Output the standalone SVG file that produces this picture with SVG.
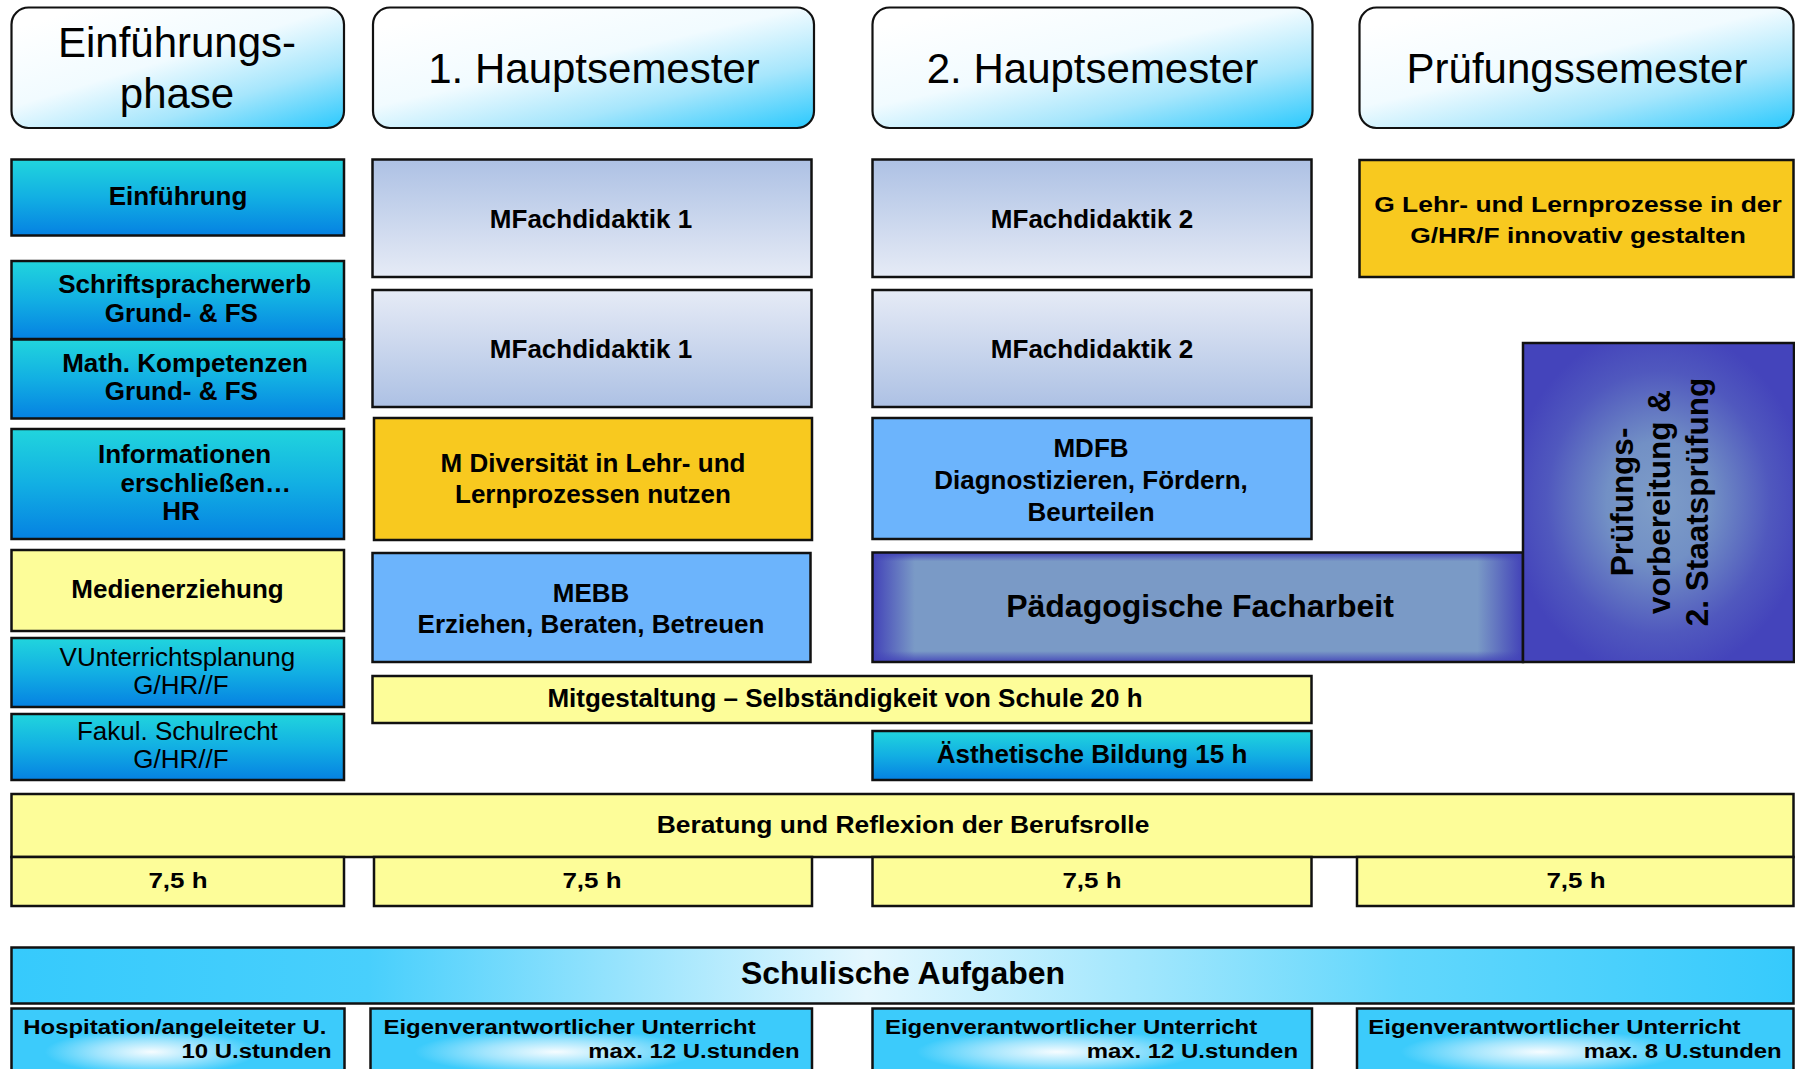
<svg xmlns="http://www.w3.org/2000/svg" width="1795" height="1069" viewBox="0 0 1795 1069">
<defs>
<linearGradient id="gHdr" x1="0.15" y1="0.05" x2="0.95" y2="1">
<stop offset="0" stop-color="#ffffff"/><stop offset="0.4" stop-color="#f1fbff"/><stop offset="0.7" stop-color="#a6e6fc"/><stop offset="1" stop-color="#33cbfd"/>
</linearGradient>
<linearGradient id="gCyan" x1="0" y1="0" x2="0" y2="1">
<stop offset="0" stop-color="#21d5dd"/><stop offset="0.5" stop-color="#12afe3"/><stop offset="1" stop-color="#0581e2"/>
</linearGradient>
<linearGradient id="gMFa" x1="0" y1="0" x2="0" y2="1">
<stop offset="0" stop-color="#adc1e4"/><stop offset="1" stop-color="#e6ebf6"/>
</linearGradient>
<linearGradient id="gMFb" x1="0" y1="0" x2="0" y2="1">
<stop offset="0" stop-color="#e6ebf6"/><stop offset="1" stop-color="#adc1e4"/>
</linearGradient>
<linearGradient id="gPadH" x1="0" y1="0" x2="1" y2="0">
<stop offset="0" stop-color="#4242b8"/><stop offset="0.065" stop-color="#7a9ac6"/><stop offset="0.93" stop-color="#7a9ac6"/><stop offset="1" stop-color="#4242b8"/>
</linearGradient>
<linearGradient id="gPadV" x1="0" y1="0" x2="0" y2="1">
<stop offset="0" stop-color="#4242b8" stop-opacity="1"/><stop offset="0.08" stop-color="#4242b8" stop-opacity="0"/><stop offset="0.9" stop-color="#4242b8" stop-opacity="0"/><stop offset="1" stop-color="#4242b8" stop-opacity="0.9"/>
</linearGradient>
<radialGradient id="gPurple" cx="0.5" cy="0.5" r="0.55">
<stop offset="0" stop-color="#7e9dc8"/><stop offset="0.35" stop-color="#7290c5"/><stop offset="0.75" stop-color="#5058be"/><stop offset="1" stop-color="#4444bb"/>
</radialGradient>
<linearGradient id="gSchul" x1="0" y1="0" x2="1" y2="0">
<stop offset="0" stop-color="#36cafc"/><stop offset="0.2" stop-color="#48cffc"/><stop offset="0.48" stop-color="#e4f7fe"/><stop offset="0.78" stop-color="#62d7fc"/><stop offset="1" stop-color="#36cafc"/>
</linearGradient>
<radialGradient id="gBot" cx="0.42" cy="0.62" r="0.32">
<stop offset="0" stop-color="#f6fcff"/><stop offset="0.5" stop-color="#a2e5fd"/><stop offset="1" stop-color="#3ccbfb"/>
</radialGradient>
</defs>
<style>
.b{stroke:#111;stroke-width:2.5}
.hd{stroke:#111;stroke-width:2.2;fill:url(#gHdr)}
.cy{fill:url(#gCyan)}
.ye{fill:#fdfd99}
.go{fill:#f8c91f}
.lb{fill:#6cb4fc}
.bt{fill:url(#gBot)}
text{font-family:'Liberation Sans',Arial,sans-serif;fill:#000}
.t{font-weight:bold;font-size:26px;text-anchor:middle}
.r{font-weight:normal}
.h{font-size:42px;font-weight:normal;text-anchor:middle}
.big{font-weight:bold;font-size:32px;text-anchor:middle}
.sm{font-weight:bold;font-size:21px}
.e{text-anchor:end}
.v{font-weight:bold;font-size:31.5px;text-anchor:middle}
</style>
<rect width="1795" height="1069" fill="#ffffff"/>

<g id="hdr1"><rect class="hd" x="11.5" y="7.5" width="332.5" height="120.5" rx="17"/><text class="h" x="177" y="57">Einführungs-</text><text class="h" x="177" y="108">phase</text></g>
<g id="hdr2"><rect class="hd" x="373" y="7.5" width="441" height="120.5" rx="17"/><text class="h" x="594" y="83">1. Hauptsemester</text></g>
<g id="hdr3"><rect class="hd" x="872.5" y="7.5" width="440" height="120.5" rx="17"/><text class="h" x="1092.5" y="83">2. Hauptsemester</text></g>
<g id="hdr4"><rect class="hd" x="1359.5" y="7.5" width="434" height="120.5" rx="17"/><text class="h" x="1577" y="83">Prüfungssemester</text></g>

<g id="einfuehrung"><rect class="b cy" x="11.5" y="159.5" width="332.5" height="76"/><text class="t" x="178" y="205">Einführung</text></g>
<g id="schrift"><rect class="b cy" x="11.5" y="261" width="332.5" height="78"/><text class="t" x="184.6" y="293">Schriftspracherwerb</text><text class="t" x="181.4" y="322">Grund- &amp; FS</text></g>
<g id="math"><rect class="b cy" x="11.5" y="339.5" width="332.5" height="79"/><text class="t" x="185" y="372">Math. Kompetenzen</text><text class="t" x="181.4" y="400">Grund- &amp; FS</text></g>
<g id="info"><rect class="b cy" x="11.5" y="429" width="332.5" height="110"/><text class="t" x="184.6" y="463">Informationen</text><text class="t" x="205.8" y="492">erschließen…</text><text class="t" x="181" y="520">HR</text></g>
<g id="medien"><rect class="b ye" x="11.5" y="550" width="332.5" height="81"/><text class="t" x="177.5" y="598">Medienerziehung</text></g>
<g id="unterricht"><rect class="b cy" x="11.5" y="638" width="332.5" height="69"/><text class="t r" x="177.4" y="666">VUnterrichtsplanung</text><text class="t r" x="181" y="694">G/HR//F</text></g>
<g id="schulrecht"><rect class="b cy" x="11.5" y="714" width="332.5" height="66"/><text class="t r" x="177.4" y="740">Fakul. Schulrecht</text><text class="t r" x="181" y="768">G/HR//F</text></g>

<g id="mf1a"><rect class="b" fill="url(#gMFa)" x="372.5" y="159.5" width="439" height="117.5"/><text class="t" x="591" y="228">MFachdidaktik 1</text></g>
<g id="mf1b"><rect class="b" fill="url(#gMFb)" x="372.5" y="290" width="439" height="117"/><text class="t" x="591" y="358">MFachdidaktik 1</text></g>
<g id="diversitaet"><rect class="b go" x="374" y="418" width="438" height="122"/><text class="t" x="593" y="472">M Diversität in Lehr- und</text><text class="t" x="593" y="503">Lernprozessen nutzen</text></g>
<g id="mebb"><rect class="b lb" x="372.5" y="553" width="438" height="109"/><text class="t" x="591" y="602">MEBB</text><text class="t" x="591" y="633">Erziehen, Beraten, Betreuen</text></g>
<g id="mitgestaltung"><rect class="b ye" x="372.5" y="676" width="939" height="47"/><text class="t" x="845" y="707">Mitgestaltung – Selbständigkeit von Schule 20 h</text></g>

<g id="mf2a"><rect class="b" fill="url(#gMFa)" x="872.5" y="159.5" width="439" height="117.5"/><text class="t" x="1092" y="228">MFachdidaktik 2</text></g>
<g id="mf2b"><rect class="b" fill="url(#gMFb)" x="872.5" y="290" width="439" height="117"/><text class="t" x="1092" y="358">MFachdidaktik 2</text></g>
<g id="mdfb"><rect class="b lb" x="872.5" y="418" width="439" height="121"/><text class="t" x="1091" y="457">MDFB</text><text class="t" x="1091" y="489">Diagnostizieren, Fördern,</text><text class="t" x="1091" y="521">Beurteilen</text></g>
<g id="facharbeit"><rect fill="url(#gPadH)" x="872.5" y="552.5" width="650.5" height="109.5"/><rect fill="url(#gPadV)" x="872.5" y="552.5" width="650.5" height="109.5"/><rect class="b" fill="none" x="872.5" y="552.5" width="650.5" height="109.5"/><text class="big" x="1200" y="617">Pädagogische Facharbeit</text></g>
<g id="aesthetik"><rect class="b cy" x="872.5" y="731" width="439" height="49"/><text class="t" x="1092" y="763">Ästhetische Bildung 15 h</text></g>

<g id="glehr"><rect class="b go" x="1359.5" y="160" width="434" height="117"/><text class="t" style="font-size:22px" transform="translate(1578,212) scale(1.2,1)">G Lehr- und Lernprozesse in der</text><text class="t" style="font-size:22px" transform="translate(1578,243) scale(1.2,1)">G/HR/F innovativ gestalten</text></g>
<g id="pruefung"><rect class="b" fill="url(#gPurple)" x="1523" y="343" width="271" height="319"/><text class="v" transform="translate(1633,502) rotate(-90)">Prüfungs-</text><text class="v" transform="translate(1670,502) rotate(-90)">vorbereitung &amp;</text><text class="v" transform="translate(1708,502) rotate(-90)">2. Staatsprüfung</text></g>

<g id="beratung"><rect class="b ye" x="11.5" y="794" width="1782" height="63"/><text class="t" style="font-size:24px" transform="translate(903,833) scale(1.1,1)">Beratung und Reflexion der Berufsrolle</text></g>
<g id="h1"><rect class="b ye" x="11.5" y="857" width="332.5" height="49"/><text class="t" style="font-size:22px" transform="translate(178,888) scale(1.18,1)">7,5 h</text></g>
<g id="h2"><rect class="b ye" x="374" y="857" width="438" height="49"/><text class="t" style="font-size:22px" transform="translate(592,888) scale(1.18,1)">7,5 h</text></g>
<g id="h3"><rect class="b ye" x="872.5" y="857" width="439" height="49"/><text class="t" style="font-size:22px" transform="translate(1092,888) scale(1.18,1)">7,5 h</text></g>
<g id="h4"><rect class="b ye" x="1357" y="857" width="436.5" height="49"/><text class="t" style="font-size:22px" transform="translate(1576,888) scale(1.18,1)">7,5 h</text></g>

<g id="schulisch"><rect class="b" fill="url(#gSchul)" x="11.5" y="947.5" width="1782" height="56"/><text class="big" x="903" y="984">Schulische Aufgaben</text></g>
<g id="bot1"><rect class="b bt" x="11.5" y="1008.5" width="333" height="70"/><text class="sm" transform="translate(23.3,1034) scale(1.14,1)">Hospitation/angeleiteter U.</text><text class="sm e" transform="translate(331.7,1058) scale(1.14,1)">10 U.stunden</text></g>
<g id="bot2"><rect class="b bt" x="370.5" y="1008.5" width="441.5" height="70"/><text class="sm" transform="translate(383.5,1034) scale(1.14,1)">Eigenverantwortlicher Unterricht</text><text class="sm e" transform="translate(799.7,1058) scale(1.14,1)">max. 12 U.stunden</text></g>
<g id="bot3"><rect class="b bt" x="872.5" y="1008.5" width="439.5" height="70"/><text class="sm" transform="translate(885,1034) scale(1.14,1)">Eigenverantwortlicher Unterricht</text><text class="sm e" transform="translate(1298,1058) scale(1.14,1)">max. 12 U.stunden</text></g>
<g id="bot4"><rect class="b bt" x="1357" y="1008.5" width="436.5" height="70"/><text class="sm" transform="translate(1368.3,1034) scale(1.14,1)">Eigenverantwortlicher Unterricht</text><text class="sm e" transform="translate(1781.7,1058) scale(1.14,1)">max. 8 U.stunden</text></g>

<g id="connectors"></g>
</svg>
